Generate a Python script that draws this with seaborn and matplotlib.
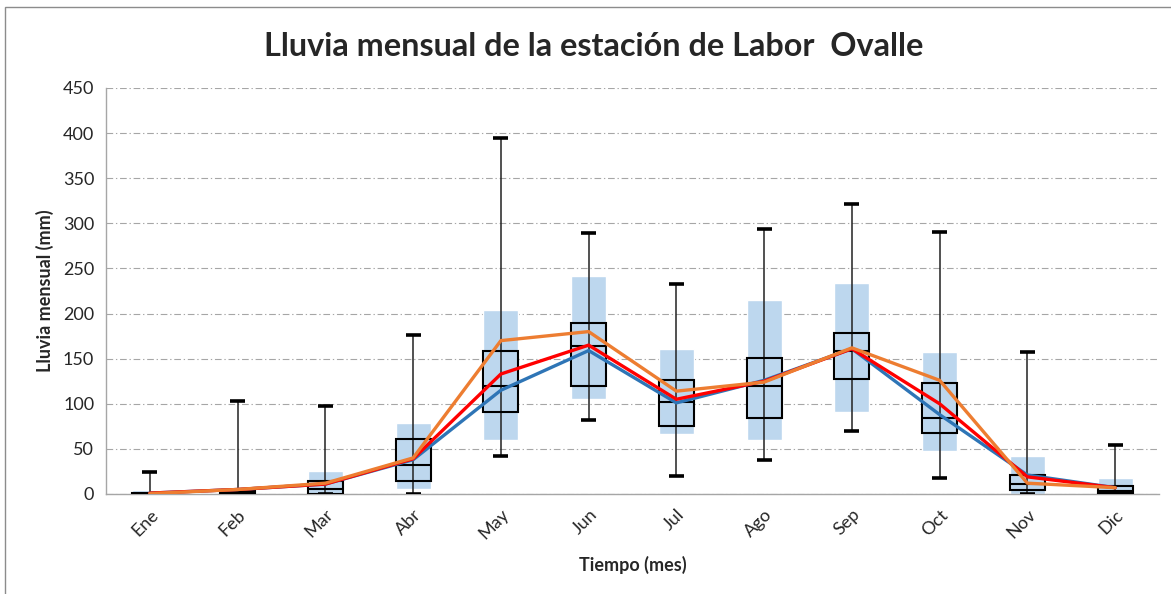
import numpy as np
import pandas as pd
import matplotlib
matplotlib.use('Agg')
import matplotlib.pyplot as plt
import seaborn as sns
from matplotlib.patches import Rectangle

# Datos (mm)
meses = ['Ene', 'Feb', 'Mar', 'Abr', 'May', 'Jun', 'Jul', 'Ago', 'Sep', 'Oct', 'Nov', 'Dic']
minimo = [0, 0, 0, 0, 42, 82, 20, 38, 70, 18, 0, 0]
maximo = [24, 103, 97, 176, 395, 289, 233, 294, 321, 290, 157, 54]
q1 = [0, 0, 0, 14, 91, 120, 75, 84, 127, 68, 4, 1]
mediana = [0.5, 1, 5, 32, 120, 164, 102, 120, 158, 84, 11, 3]
q3 = [1, 3, 14, 61, 159, 190, 126, 151, 178, 123, 21, 9]
banda_inf = [0, 0, 0, 6, 60, 105, 66, 60, 91, 48, 0, 0]
banda_sup = [4, 8, 26, 79, 204, 242, 161, 215, 234, 157, 42, 18]
serie_azul = [1, 5, 11, 38, 115, 159, 101, 126, 161, 88, 21, 7]
serie_roja = [1, 5, 11, 39, 133, 165, 105, 125, 161, 100, 19, 7]
serie_naranja = [0.5, 5, 12, 40, 170, 180, 114, 124, 162, 126, 12, 7]

sns.set_style('white')
plt.rcParams['font.family'] = ['Lato', 'DejaVu Sans']

x = np.arange(len(meses))
ancho = 0.4
cap = 0.085

fig = plt.figure(figsize=(11.71, 5.94), dpi=100)
ax = fig.add_axes([106 / 1171, 100 / 594, 1053 / 1171, 406 / 594])

# borde del area del grafico
fig.patches.append(Rectangle((5 / 1171, -0.05), 1.2, (594 - 7) / 594 + 0.05,
                             transform=fig.transFigure, fill=False,
                             edgecolor='#8c8c8c', lw=1, zorder=0))

# banda celeste
bajo = np.array(banda_inf)
alto = np.array(banda_sup)
ax.bar(x, alto - bajo, bottom=bajo, width=ancho, color='#BDD7EE', zorder=2)

# bigotes
ax.vlines(x, minimo, maximo, color='#222222', lw=1.1, zorder=3)
ax.hlines(maximo, x - cap, x + cap, color='black', lw=2.6, zorder=3)
ax.hlines(minimo, x - cap, x + cap, color='black', lw=2.6, zorder=3)

# cajas
ax.bar(x, np.array(q3) - np.array(q1), bottom=q1, width=ancho, fill=False,
       edgecolor='black', lw=1.5, zorder=4)
ax.hlines(mediana, x - ancho / 2, x + ancho / 2, color='black', lw=1.5, zorder=4)

# series
df = pd.DataFrame({
    'x': np.tile(x, 3),
    'valor': serie_azul + serie_roja + serie_naranja,
    'serie': ['azul'] * 12 + ['roja'] * 12 + ['naranja'] * 12,
})
sns.lineplot(data=df, x='x', y='valor', hue='serie', sort=False, legend=False,
             palette={'azul': '#2E75B6', 'roja': '#FF0000', 'naranja': '#ED7D31'},
             lw=2.4, ax=ax, zorder=5)

ax.set_xlim(-0.5, 11.5)
ax.set_ylim(0, 450)
ax.set_yticks(np.arange(0, 451, 50))
ax.set_xticks(x)
ax.set_xticklabels(meses, rotation=45, ha='right', va='top', rotation_mode='anchor')
ax.set_xticks(np.arange(-0.5, 12, 1), minor=True)
ax.tick_params(axis='x', which='major', length=0, pad=9, labelsize=13, colors='#262626')
ax.tick_params(axis='x', which='minor', length=4.5, width=1, color='#a6a6a6', direction='out')
ax.tick_params(axis='y', length=4.5, width=1, color='#a6a6a6', direction='out', pad=4,
               labelsize=13, labelcolor='#262626')
ax.yaxis.grid(True, color='#a6a6a6', lw=0.8, linestyle=(0, (6, 2.5, 1.2, 2.5)))
ax.set_axisbelow(True)

for lado in ['top', 'right']:
    ax.spines[lado].set_visible(False)
for lado in ['left', 'bottom']:
    ax.spines[lado].set_color('#a6a6a6')
    ax.spines[lado].set_linewidth(1)

ax.set_xlabel('Tiempo (mes)', fontsize=13, fontweight='bold', labelpad=10)
ax.set_ylabel('Lluvia mensual (mm)', fontsize=13, fontweight='bold', labelpad=6)
fig.text(0.507, 0.922, 'Lluvia mensual de la estación de Labor  Ovalle',
         ha='center', va='center', fontsize=23.3, fontweight='bold')

fig.savefig('out.png', dpi=100)
